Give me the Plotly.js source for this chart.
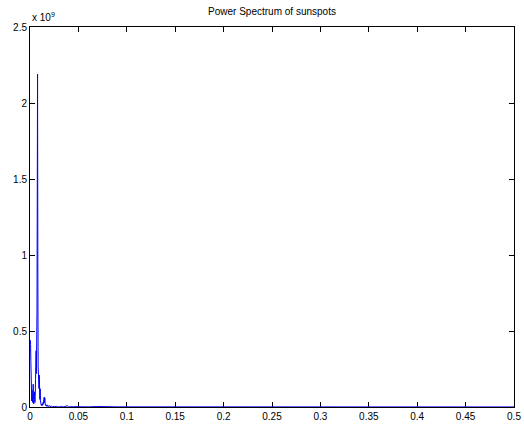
<!DOCTYPE html>
<html>
<head>
<meta charset="utf-8">
<script src="https://cdn.plot.ly/plotly-3.0.1.min.js"></script>
<style>
  html, body { margin: 0; padding: 0; background: #fff; }
  #plot { width: 524px; height: 428px; }
</style>
</head>
<body>
<div id="plot"></div>
<script>
// Frequency (cycles per month) and periodogram power of the monthly sunspot numbers
const freq = [
  0.0003, 0.0006, 0.0009, 0.0012, 0.0015, 0.0018, 0.0021, 0.0024, 0.0027, 0.0030,
  0.0033, 0.0036, 0.0039, 0.0042, 0.0045, 0.0048, 0.0051, 0.0054, 0.0057, 0.0060,
  0.0063, 0.0066, 0.0069, 0.0072, 0.0075, 0.0078, 0.0081, 0.0084, 0.0087, 0.0090,
  0.0093, 0.0096, 0.0099, 0.0102, 0.0105, 0.0108, 0.0111, 0.0114, 0.0117, 0.0120,
  0.0123, 0.0126, 0.0129, 0.0132, 0.0135, 0.0138, 0.0141, 0.0144, 0.0147, 0.0150,
  0.0153, 0.0156, 0.0159, 0.0162, 0.0165, 0.0168, 0.0171, 0.0174, 0.0177, 0.0180,
  0.0183, 0.0186, 0.0189, 0.0192, 0.0195, 0.0198, 0.0201, 0.0204, 0.0207, 0.0210,
  0.0213, 0.0216, 0.0219, 0.0222, 0.0225, 0.0228, 0.0231, 0.0234, 0.0240, 0.0246,
  0.0252, 0.0258, 0.0264, 0.0270, 0.0276, 0.0282, 0.0290, 0.0300, 0.0320, 0.0350,
  0.0385, 0.0400, 0.0450, 0.0500, 0.0600, 0.0700, 0.0740, 0.0780, 0.0820, 0.0860,
  0.0900, 0.1000, 0.1200, 0.1500, 0.1800, 0.2000, 0.2500, 0.3000, 0.3500, 0.4000,
  0.4500, 0.5000
];

const power = [
  0.44e9, 0.41e9, 0.30e9, 0.18e9, 0.07e9, 0.04e9, 0.11e9, 0.06e9, 0.03e9, 0.09e9,
  0.15e9, 0.05e9, 0.02e9, 0.06e9, 0.10e9, 0.04e9, 0.03e9, 0.07e9, 0.18e9, 0.30e9,
  0.37e9, 0.22e9, 0.35e9, 0.62e9, 1.35e9, 2.19e9, 0.95e9, 0.27e9, 0.14e9, 0.26e9,
  0.12e9, 0.21e9, 0.08e9, 0.05e9, 0.12e9, 0.04e9, 0.02e9, 0.03e9, 0.01e9, 0.02e9,
  0.015e9, 0.01e9, 0.02e9, 0.012e9, 0.03e9, 0.02e9, 0.04e9, 0.05e9, 0.065e9, 0.03e9,
  0.06e9, 0.025e9, 0.015e9, 0.02e9, 0.008e9, 0.012e9, 0.005e9, 0.01e9, 0.004e9, 0.012e9,
  0.006e9, 0.01e9, 0.004e9, 0.008e9, 0.003e9, 0.006e9, 0.009e9, 0.004e9, 0.003e9, 0.007e9,
  0.002e9, 0.005e9, 0.003e9, 0.006e9, 0.002e9, 0.004e9, 0.002e9, 0.003e9, 0.005e9, 0.002e9,
  0.004e9, 0.002e9, 0.003e9, 0.002e9, 0.004e9, 0.001e9, 0.003e9, 0.001e9, 0.002e9, 0.001e9,
  0.008e9, 0.001e9, 0.002e9, 0.001e9, 0.001e9, 0.003e9, 0.002e9, 0.004e9, 0.002e9, 0.003e9,
  0.001e9, 0.001e9, 0.0008e9, 0.0005e9, 0.0006e9, 0.0004e9, 0.0005e9, 0.0004e9, 0.0003e9, 0.0004e9,
  0.0003e9, 0.0003e9
];

const xTicks = [0, 0.05, 0.1, 0.15, 0.2, 0.25, 0.3, 0.35, 0.4, 0.45, 0.5];
const xTickText = ['0', '0.05', '0.1', '0.15', '0.2', '0.25', '0.3', '0.35', '0.4', '0.45', '0.5'];
const yTicks = [0, 0.5e9, 1e9, 1.5e9, 2e9, 2.5e9];
const yTickText = ['0', '0.5', '1', '1.5', '2', '2.5'];

const font = { family: 'Liberation Sans, Arial, Helvetica, sans-serif', size: 10, color: '#000' };

const axisCommon = {
  showgrid: false,
  zeroline: false,
  showline: true,
  linecolor: '#000',
  linewidth: 1,
  mirror: 'ticks',
  ticks: 'inside',
  ticklen: 5,
  tickcolor: '#000',
  tickwidth: 1,
  tickfont: font,
  layer: 'below traces',
  fixedrange: true
};

const trace = {
  x: freq,
  y: power,
  type: 'scatter',
  mode: 'lines',
  line: { color: '#0000ff', width: 1 },
  hoverinfo: 'skip'
};

const layout = {
  width: 524,
  height: 428,
  margin: { l: 30, r: 10, t: 27, b: 21 },
  paper_bgcolor: '#fff',
  plot_bgcolor: '#fff',
  showlegend: false,
  font: font,
  title: {
    text: 'Power Spectrum of sunspots',
    font: font,
    x: 0.5, xref: 'paper',
    y: 1 - 11 / 428, yref: 'container', yanchor: 'middle'
  },
  xaxis: Object.assign({}, axisCommon, {
    range: [0, 0.5],
    tickmode: 'array',
    tickvals: xTicks,
    ticktext: xTickText
  }),
  yaxis: Object.assign({}, axisCommon, {
    range: [0, 2.5e9],
    tickmode: 'array',
    tickvals: yTicks,
    ticktext: yTickText
  }),
  annotations: [{
    text: 'x 10<sup>9</sup>',
    xref: 'paper', yref: 'paper',
    x: 0, y: 1,
    xanchor: 'left', yanchor: 'bottom',
    yshift: 2,
    showarrow: false,
    font: font
  }]
};

Plotly.newPlot('plot', [trace], layout, { staticPlot: true, displayModeBar: false });
</script>
</body>
</html>
